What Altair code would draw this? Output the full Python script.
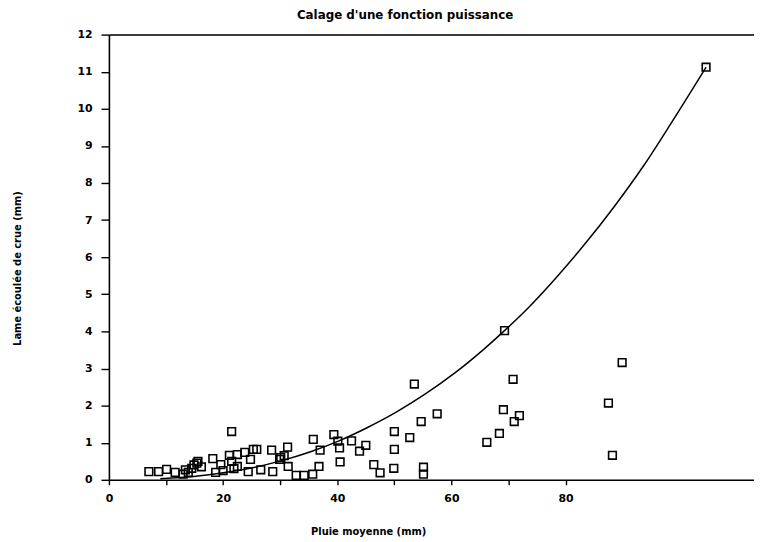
import altair as alt
import pandas as pd

# Observed events: mean rainfall (mm) vs flood runoff depth (mm)
rain_mm = [7.0, 8.7, 10.1, 11.6, 13.0, 13.4, 13.9, 14.5, 14.9, 15.4,
           15.6, 16.2, 18.2, 18.7, 19.6, 20.0, 21.1, 21.5, 21.5, 21.9,
           22.5, 22.5, 23.8, 24.4, 24.8, 25.3, 25.9, 26.6, 28.5, 28.7,
           29.9, 30.1, 30.7, 31.3, 31.4, 32.8, 34.2, 35.7, 35.8, 36.8,
           37.0, 39.4, 40.1, 40.4, 40.5, 42.5, 43.9, 45.0, 46.4, 47.5,
           49.9, 50.0, 50.0, 52.7, 53.5, 54.7, 55.1, 55.1, 57.5, 66.2,
           68.4, 69.1, 69.3, 70.8, 71.0, 71.9, 87.5, 88.2, 89.9, 104.6]
runoff_mm = [0.22, 0.22, 0.28, 0.20, 0.15, 0.27, 0.20, 0.31, 0.40, 0.45,
             0.50, 0.35, 0.57, 0.20, 0.41, 0.25, 0.66, 0.50, 1.30, 0.30,
             0.68, 0.36, 0.74, 0.22, 0.55, 0.82, 0.82, 0.27, 0.80, 0.22,
             0.55, 0.60, 0.65, 0.88, 0.36, 0.12, 0.12, 0.15, 1.09, 0.36,
             0.80, 1.22, 1.04, 0.86, 0.48, 1.05, 0.77, 0.93, 0.41, 0.19,
             0.31, 0.82, 1.30, 1.14, 2.58, 1.57, 0.34, 0.15, 1.78, 1.01,
             1.25, 1.89, 4.02, 2.71, 1.57, 1.73, 2.07, 0.66, 3.16, 11.12]

# Fitted power curve
fit_rain_mm = [9.0, 12.3, 14.9, 20.0, 25.0, 30.1, 35.2, 40.3, 45.3, 50.4,
               55.5, 60.6, 65.6, 69.3, 73.3, 78.3, 83.4, 88.5, 93.6, 98.6,
               104.6]
fit_runoff_mm = [0.03, 0.06, 0.09, 0.19, 0.32, 0.51, 0.75, 1.05, 1.41, 1.83,
                 2.32, 2.88, 3.51, 4.02, 4.61, 5.44, 6.36, 7.36, 8.45, 9.64,
                 11.12]

x_ticks = [0, 10, 20, 30, 40, 50, 60, 70, 80]
y_ticks = list(range(0, 13))

pts = pd.DataFrame({"pluie": rain_mm, "lame": runoff_mm})
fit = pd.DataFrame({"pluie": fit_rain_mm, "lame": fit_runoff_mm})

FONT = "DejaVu Sans"
x_scale = alt.Scale(domain=[0, 113], nice=False, zero=False)
y_scale = alt.Scale(domain=[0, 12], nice=False)

common_axis = dict(
    grid=False, domainColor="black", domainWidth=1.6, tickColor="black",
    tickWidth=1.4, labelFont=FONT, labelFontWeight="bold", labelFontSize=11,
    labelColor="black", titleFont=FONT, titleFontWeight="bold",
    titleFontSize=10, titleColor="black",
)

x_axis = alt.Axis(
    title="Pluie moyenne (mm)", values=x_ticks,
    labelExpr="datum.value % 20 == 0 ? datum.label : ''",
    tickSize=5, labelPadding=8, labelFlush=False, labelOverlap=False,
    titleX=262, titleY=52, titleAlign="center", titleBaseline="middle",
    **common_axis,
)
y_axis = alt.Axis(
    title="Lame écoulée de crue (mm)", values=y_ticks, tickSize=8,
    labelPadding=9, labelFlush=False, labelOverlap=False,
    titleAngle=270, titleX=-92, titleY=236, titleAlign="center",
    titleBaseline="middle",
    **common_axis,
)
top_axis = alt.Axis(
    orient="top", title=None, labels=False, ticks=False, grid=False,
    domainColor="black", domainWidth=1.6,
)

points = alt.Chart(pts).mark_point(
    shape="square", filled=False, size=60, strokeWidth=1.6, color="black",
    opacity=1,
).encode(
    x=alt.X("pluie:Q", scale=x_scale, axis=x_axis),
    y=alt.Y("lame:Q", scale=y_scale, axis=y_axis),
)

curve = alt.Chart(fit).mark_line(
    color="black", strokeWidth=1.5, interpolate="monotone",
).encode(
    x=alt.X("pluie:Q", scale=x_scale, axis=top_axis),
    y=alt.Y("lame:Q", scale=y_scale, axis=y_axis),
)

chart = alt.layer(points, curve).resolve_axis(x="independent").properties(
    width=652,
    height=450,
    autosize=alt.AutoSizeParams(type="none"),
    padding={"left": 102, "top": 24, "right": 0, "bottom": 60},
    title=alt.TitleParams(
        text="Calage d'une fonction puissance", anchor="start", frame="group",
        dx=190, offset=7, font=FONT, fontSize=12, fontWeight="bold",
        color="black",
    ),
).configure_view(stroke=None).configure(background="white")

chart.save("out.html", embed_options={"renderer": "svg", "actions": False})
